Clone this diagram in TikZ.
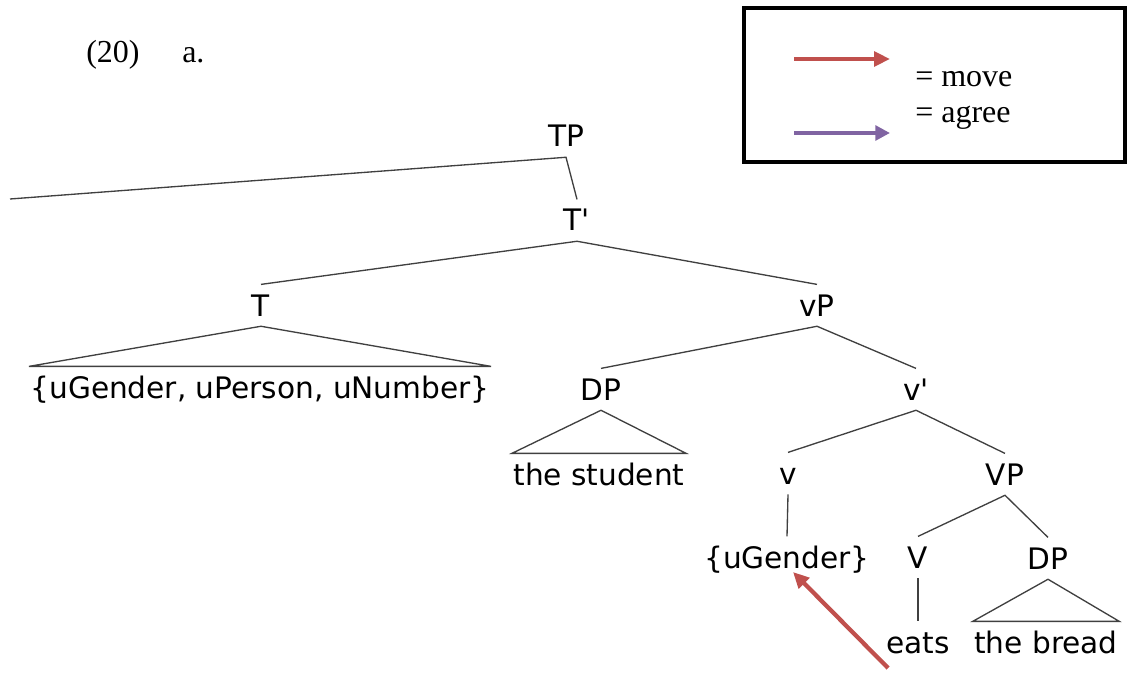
\documentclass[tikz,border=0pt]{standalone}
\usepackage{fontspec}
\setmainfont{Liberation Serif}
\newfontfamily\treefont{DejaVu Sans}
\usetikzlibrary{arrows.meta,calc}
\definecolor{moveRed}{HTML}{C0504D}
\definecolor{agreePurple}{HTML}{8064A2}
\begin{document}
\begin{tikzpicture}[x=0.75pt,y=-0.75pt,
  lab/.style={font=\treefont\fontsize{22.2pt}{26pt}\selectfont, anchor=base,
    text height=16pt, text depth=0pt, inner ysep=7.5pt, inner xsep=1pt},
  branch/.style={line width=1pt, draw=black!75},
  serif/.style={font=\fontsize{24pt}{28pt}\selectfont, anchor=base west, inner sep=0pt},
  movearrow/.style={draw=moveRed, line width=3.2pt,
    -{Triangle[length=12pt,width=11pt]}},
  agreearrow/.style={draw=agreePurple, line width=3.2pt,
    -{Triangle[length=11pt,width=11pt]}}]
\useasboundingbox (0,0) rectangle (1127,673);

% example label
\node[serif] (ex) at (86,63) {(20)};
\node[serif] (exa) at (182,63) {a.};

% legend
\draw[line width=2.3pt] (744,8) rectangle (1125,162);
\coordinate (mvA) at (794,59);
\coordinate (mvB) at (890,59);
\coordinate (agA) at (794,133);
\coordinate (agB) at (890,133);
\draw[movearrow] (mvA) -- (mvB);
\draw[agreearrow] (agA) -- (agB);
\node[serif] (lmove) at (915,87) {= move};
\node[serif] (lagree) at (915,123) {= agree};

% tree nodes
\node[lab] (TP) at (566,147) {TP};
\node[lab] (Tbar) at (577,231) {T'};
\node[lab] (T) at (261,316) {T};
\node[lab] (vP) at (817,316) {vP};
\node[lab] (Tleaf) at (260,398) {\{uGender, uPerson, uNumber\}};
\node[lab] (DPa) at (601,400) {DP};
\node[lab] (vbar) at (916,400) {v'};
\node[lab] (student) at (599,485) {the student};
\node[lab] (v) at (788,484) {v};
\node[lab] (VP) at (1005,485) {VP};
\node[lab] (ug) at (787,568) {\{uGender\}};
\node[lab] (V) at (918,568) {V};
\node[lab] (DPb) at (1048,569) {DP};
\node[lab] (eats) at (918,653) {eats};
\node[lab] (bread) at (1046,653) {the bread};
\coordinate (specTP) at (10,199);

% branches
\draw[branch] (specTP) -- (TP.south) -- (Tbar.north);
\draw[branch] (T.north) -- (Tbar.south) -- (vP.north);
\draw[branch] (T.south) -- (Tleaf.north west) -- (Tleaf.north east) -- cycle;
\draw[branch] (DPa.north) -- (vP.south) -- (vbar.north);
\draw[branch] (DPa.south) -- (student.north west) -- (student.north east) -- cycle;
\draw[branch] (v.north) -- (vbar.south) -- (VP.north);
\draw[branch] (v.south) -- (ug.north);
\draw[branch] (V.north) -- (VP.south) -- (DPb.north);
\draw[branch] (V.south) -- (eats.north);
\draw[branch] (DPb.south) -- (bread.north west) -- (bread.north east) -- cycle;

% movement arrow
\coordinate (mvtail) at (888,668);
\draw[movearrow] (mvtail) -- ($(ug.base)+(6,4)$);
\end{tikzpicture}
\end{document}
